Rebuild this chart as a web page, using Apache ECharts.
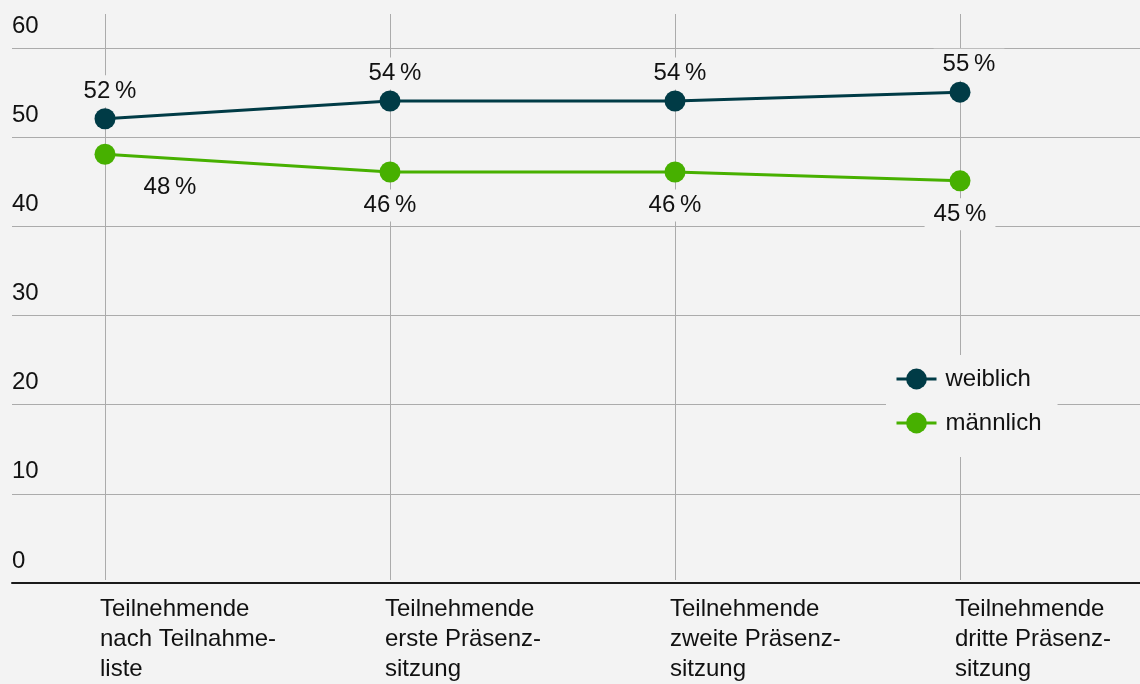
<!DOCTYPE html>
<html>
<head>
<meta charset="utf-8">
<script src="https://cdn.jsdelivr.net/npm/echarts@6/dist/echarts.min.js"></script>
<style>
  html, body { margin: 0; padding: 0; background: #f3f3f3; }
  #chart { width: 1140px; height: 684px; }
</style>
</head>
<body>
<div id="chart"></div>
<script>
// Teilnehmende nach Geschlecht (Anteile in Prozent)
const categories = [
  'Teilnehmende\nnach Teilnahme-\nliste',
  'Teilnehmende\nerste Präsenz-\nsitzung',
  'Teilnehmende\nzweite Präsenz-\nsitzung',
  'Teilnehmende\ndritte Präsenz-\nsitzung'
];
const weiblich = [52, 54, 54, 55];
const maennlich = [48, 46, 46, 45];
const seriesNames = ['weiblich', 'männlich'];
const yTicks = { min: 0, max: 60, step: 10 };

const BG = '#f3f3f3';
const GRID_LINE = '#ababab';
const TEXT = '#111111';
const FONT = '"Liberation Sans", Arial, sans-serif';
const FS = 24;
const DARK = '#003b46';
const GREEN = '#47b000';

// plot geometry (pixels)
const bottom = 101;
const topValues = 48;   // where the 60 line sits
const topCats = 14;     // vertical lines reach further up
const plotBottomY = 684 - bottom;
// the data grid is taller, so its max is stretched to keep the same scale
const dataMax = yTicks.max * (plotBottomY - topCats) / (plotBottomY - topValues);

const pct = v => v + '\u2009%';

const chart = echarts.init(document.getElementById('chart'), null, { renderer: 'canvas' });

const valueLabel = {
  show: true,
  formatter: p => pct(p.value),
  color: TEXT, fontSize: FS, fontFamily: FONT,
  backgroundColor: BG, padding: [4, 9, 4, 9]
};

// label nudges for the upper line (the last one sits a bit further right)
const topOffsets = [[5, 0], [5, 0], [5, 0], [9, 0]];

chart.setOption({
  backgroundColor: BG,
  animation: false,
  textStyle: { fontFamily: FONT },
  grid: [
    { left: 12, right: 0, top: topValues, bottom: bottom, containLabel: false },
    { left: 105, right: 180, top: topCats, bottom: bottom, containLabel: false }
  ],
  xAxis: [
    {
      gridIndex: 0, type: 'value', min: 0, max: 1,
      axisLine: { show: true, onZero: false, lineStyle: { color: '#1a1a1a', width: 2 } },
      axisTick: { show: false }, axisLabel: { show: false }, splitLine: { show: false }
    },
    {
      gridIndex: 1, type: 'category', data: categories, boundaryGap: false,
      axisLine: { show: false }, axisTick: { show: false },
      splitLine: { show: true, lineStyle: { color: GRID_LINE, width: 1 } },
      axisLabel: {
        color: TEXT, fontSize: FS, lineHeight: 30, align: 'left',
        margin: 14, fontFamily: FONT, padding: [0, 0, 0, -5]
      }
    }
  ],
  yAxis: [
    {
      gridIndex: 0, type: 'value', min: yTicks.min, max: yTicks.max, interval: yTicks.step,
      axisLine: { show: false }, axisTick: { show: false },
      splitLine: { show: true, lineStyle: { color: GRID_LINE, width: 1 } },
      axisLabel: {
        inside: true, margin: 0, color: TEXT, fontSize: FS, fontFamily: FONT,
        verticalAlign: 'bottom', lineHeight: 24, padding: [0, 0, 10, 0]
      }
    },
    {
      gridIndex: 1, type: 'value', min: 0, max: dataMax, show: false,
      splitLine: { show: false }
    }
  ],
  legend: {
    orient: 'vertical', left: 886, top: 355,
    backgroundColor: BG, padding: [12, 16, 22, 9],
    itemWidth: 40, itemHeight: 26, itemGap: 20,
    lineStyle: { width: 3 },
    textStyle: { color: TEXT, fontSize: FS, fontFamily: FONT, padding: [0, 0, 0, 4] },
    data: seriesNames
  },
  series: [
    {
      name: seriesNames[0], type: 'line', xAxisIndex: 1, yAxisIndex: 1,
      data: weiblich.map((v, i) => ({ value: v, label: { offset: topOffsets[i] } })),
      symbol: 'circle', symbolSize: 21,
      lineStyle: { color: DARK, width: 3 }, itemStyle: { color: DARK },
      z: 3,
      label: Object.assign({}, valueLabel, { position: 'top', distance: 1 })
    },
    {
      name: seriesNames[1], type: 'line', xAxisIndex: 1, yAxisIndex: 1,
      data: maennlich.map((v, i) => i === 0
        ? { value: v, label: { position: 'bottom', offset: [65, 0] } }
        : v),
      symbol: 'circle', symbolSize: 21,
      lineStyle: { color: GREEN, width: 3 }, itemStyle: { color: GREEN },
      z: 3,
      label: Object.assign({}, valueLabel, { position: 'bottom', distance: 7 })
    }
  ]
});
</script>
</body>
</html>
